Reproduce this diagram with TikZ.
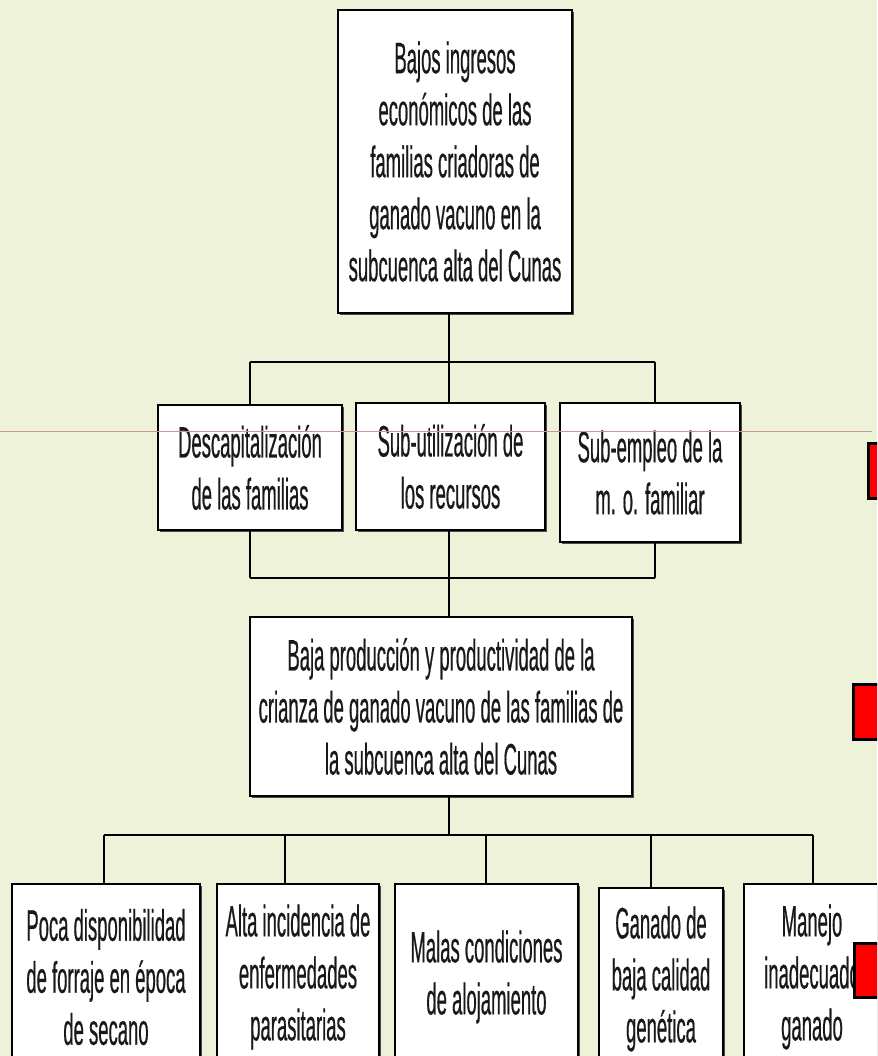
\documentclass[tikz,border=0pt]{standalone}
\usepackage{fontspec}
\newfontfamily\nar[FakeStretch=0.42,FakeBold=0.4]{Liberation Sans}
\usetikzlibrary{shadows}
\definecolor{bg}{RGB}{238,242,216}
\definecolor{guide}{RGB}{196,150,150}
\definecolor{ink}{RGB}{25,25,25}
\begin{document}
\begin{tikzpicture}[x=1pt,y=-1pt,
  box/.style={draw=black, line width=2.2pt, fill=white, align=center, inner sep=0pt,
    text=ink, font=\nar\fontsize{44}{52}\selectfont,
    general shadow={fill=black!70, shadow xshift=2pt, shadow yshift=-2pt}},
  conn/.style={line width=2pt, black},
  redsq/.style={draw=black, line width=2.5pt, fill=red}]
\clip (0,0) rectangle (877,1056);
\fill[bg] (0,0) rectangle (877,1056);
\useasboundingbox (0,0) rectangle (877,1056);

% nodes
\node[box, minimum width=234pt, minimum height=303pt] (top) at (455,161.5)
  {Bajos ingresos\\económicos de las\\familias criadoras de\\ganado vacuno en la\\subcuenca alta del Cunas};
\node[box, minimum width=184pt, minimum height=125pt] (A) at (250,467.5)
  {Descapitalización\\de las familias};
\node[box, minimum width=189pt, minimum height=127pt] (B) at (450.5,466.5)
  {Sub-utilización de\\los recursos};
\node[box, minimum width=180pt, minimum height=139pt] (C) at (650,472.5)
  {Sub-empleo de la\\m. o. familiar};
\node[box, minimum width=382pt, minimum height=179pt] (mid) at (441,706.5)
  {Baja producción y productividad de la\\crianza de ganado vacuno de las familias de\\la subcuenca alta del Cunas};
\node[box, minimum width=188pt, minimum height=186pt] (b1) at (106,977)
  {Poca disponibilidad\\de forraje en época\\de secano};
\node[box, minimum width=162pt, minimum height=186pt] (b2) at (298,977)
  {Alta incidencia de\\enfermedades\\parasitarias};
\node[box, minimum width=183pt, minimum height=186pt] (b3) at (486.5,977)
  {Malas condiciones\\de alojamiento};
\node[box, minimum width=124pt, minimum height=182pt] (b4) at (661,979)
  {Ganado de\\baja calidad\\genética};
\node[box, minimum width=136pt, minimum height=186pt] (b5) at (812,977)
  {Manejo\\inadecuado\\ganado};

% junction coordinates
\coordinate (j1) at (449,362);
\coordinate (ja) at (250,362);
\coordinate (jc) at (655,362);
\coordinate (k1) at (449,578);
\coordinate (ka) at (250,578);
\coordinate (kc) at (655,578);
\coordinate (l1) at (449,835);
\coordinate (la) at (104,835);
\coordinate (lb) at (285,835);
\coordinate (lc) at (486,835);
\coordinate (ld) at (651,835);
\coordinate (le) at (813,835);

% connectors
\draw[conn] (j1 |- top.south) -- (j1);
\draw[conn] (ja) -- (jc);
\draw[conn] (ja) -- (ja |- A.north);
\draw[conn] (j1) -- (j1 |- B.north);
\draw[conn] (jc) -- (jc |- C.north);
\draw[conn] (ka |- A.south) -- (ka);
\draw[conn] (k1 |- B.south) -- (k1);
\draw[conn] (kc |- C.south) -- (kc);
\draw[conn] (ka) -- (kc);
\draw[conn] (k1) -- (k1 |- mid.north);
\draw[conn] (l1 |- mid.south) -- (l1);
\draw[conn] (la) -- (le);
\draw[conn] (la) -- (la |- b1.north);
\draw[conn] (lb) -- (lb |- b2.north);
\draw[conn] (lc) -- (lc |- b3.north);
\draw[conn] (ld) -- (ld |- b4.north);
\draw[conn] (le) -- (le |- b5.north);

% red markers
\node[redsq, minimum width=30pt, minimum height=55pt, inner sep=0pt, anchor=north west] (r1) at (867,442) {};
\node[redsq, minimum width=40pt, minimum height=55pt, inner sep=0pt, anchor=north west] (r2) at (852,683) {};
\node[redsq, minimum width=40pt, minimum height=54pt, inner sep=0pt, anchor=north west] (r3) at (853,942) {};

% thin guide line
\coordinate (g0) at (0,431);
\coordinate (g1) at (872,431);
\draw[guide, line width=1pt] (g0) -- (g1);
\end{tikzpicture}
\end{document}
